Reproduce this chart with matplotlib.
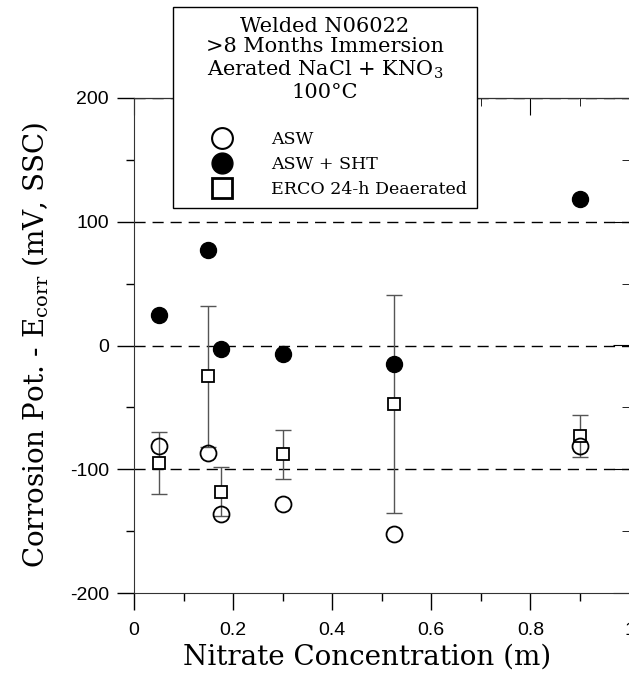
import matplotlib.pyplot as plt
from matplotlib.lines import Line2D

# nitrate concentration (m) and corrosion potential (mV, SSC)
conc = [0.05, 0.15, 0.175, 0.3, 0.525, 0.9]
ecorr_asw = [-81, -87, -136, -128, -152, -81]
ecorr_sht = [25, 77, -3, -7, -15, 118]
ecorr_erco = [-95, -25, -118, -88, -47, -73]
err_erco = [25, 57, 20, 20, 88, 17]

x_ticks = [0, 0.2, 0.4, 0.6, 0.8, 1.0]
x_tick_labels = ['0', '0.2', '0.4', '0.6', '0.8', '1']
y_ticks = [-200, -100, 0, 100, 200]

plt.rcParams['mathtext.fontset'] = 'dejavuserif'
serif = 'DejaVu Serif'
sans = 'Liberation Sans'

fig = plt.figure(figsize=(6.29, 6.77), dpi=100)
ax = fig.add_axes([134 / 629, 84 / 677, 495.5 / 629, 495 / 677])

# dashed reference lines
for y in [200, 100, 0, -100]:
    ax.axhline(y, color='black', lw=1, ls=(0, (8, 5)), zorder=1)

ax.errorbar(conc, ecorr_erco, yerr=err_erco, fmt='none', ecolor='#555555',
            elinewidth=1, capsize=6, capthick=1, zorder=2)
ax.plot(conc, ecorr_erco, 's', ms=8, mfc='white', mec='black', mew=1.3, zorder=3)
ax.plot(conc, ecorr_asw, 'o', ms=11.5, mfc='none', mec='black', mew=1.3, zorder=4)
ax.plot(conc, ecorr_sht, 'o', ms=11.5, mfc='black', mec='black', zorder=4)

ax.set_xlim(0, 1)
ax.set_ylim(-200, 200)
ax.set_xticks(x_ticks)
ax.set_xticklabels(x_tick_labels, fontfamily=sans, fontsize=14)
ax.set_xticks([0.1, 0.3, 0.5, 0.7, 0.9], minor=True)
ax.set_yticks(y_ticks)
ax.set_yticklabels([str(v) for v in y_ticks], fontfamily=sans, fontsize=14)
ax.set_yticks([-150, -50, 50, 150], minor=True)
ax.tick_params(which='major', direction='out', length=12, width=1)
ax.tick_params(which='minor', direction='out', length=6, width=1)
ax.tick_params(axis='x', which='major', pad=9)
ax.tick_params(axis='y', which='major', pad=6)
for s in ax.spines.values():
    s.set_linewidth(0.8)
    s.set_color('#333333')

top = ax.secondary_xaxis('top')
top.set_xticks(x_ticks)
top.set_xticks([0.1, 0.3, 0.5, 0.7, 0.9], minor=True)
top.tick_params(which='major', direction='in', length=12, labeltop=False)
top.tick_params(which='minor', direction='in', length=6)
right = ax.secondary_yaxis('right')
right.set_yticks(y_ticks)
right.set_yticks([-150, -50, 50, 150], minor=True)
right.tick_params(which='major', direction='in', length=12, labelright=False)
right.tick_params(which='minor', direction='in', length=6)

ax.set_xlabel('Nitrate Concentration (m)', fontfamily=serif, fontsize=20,
              labelpad=3, x=0.47)
ax.set_ylabel(r'Corrosion Pot. - E$_{\mathrm{corr}}$ (mV, SSC)', fontfamily=serif,
              fontsize=20, labelpad=14)

handles = [
    Line2D([], [], ls='none', marker='o', ms=15, mfc='none', mec='black', mew=1.5),
    Line2D([], [], ls='none', marker='o', ms=15, mfc='black', mec='black'),
    Line2D([], [], ls='none', marker='s', ms=15, mfc='none', mec='black', mew=2),
]
labels = ['ASW', 'ASW + SHT', 'ERCO 24-h Deaerated']
leg = fig.legend(handles, labels,
                 title='Welded N06022\n>8 Months Immersion\nAerated NaCl + KNO$_3$\n100°C\n',
                 loc='upper left', bbox_to_anchor=(173 / 629, 1 - 7 / 677),
                 prop={'family': serif, 'size': 12.5},
                 title_fontproperties={'family': serif, 'size': 15},
                 frameon=True, fancybox=False, edgecolor='black', framealpha=1,
                 handlelength=4.6, handletextpad=0.5, labelspacing=0.47,
                 borderpad=0.55, borderaxespad=0)
leg.get_frame().set_linewidth(1)
plt.setp(leg.get_title(), multialignment='center', linespacing=1.13)

fig.savefig('out.png', dpi=100)
